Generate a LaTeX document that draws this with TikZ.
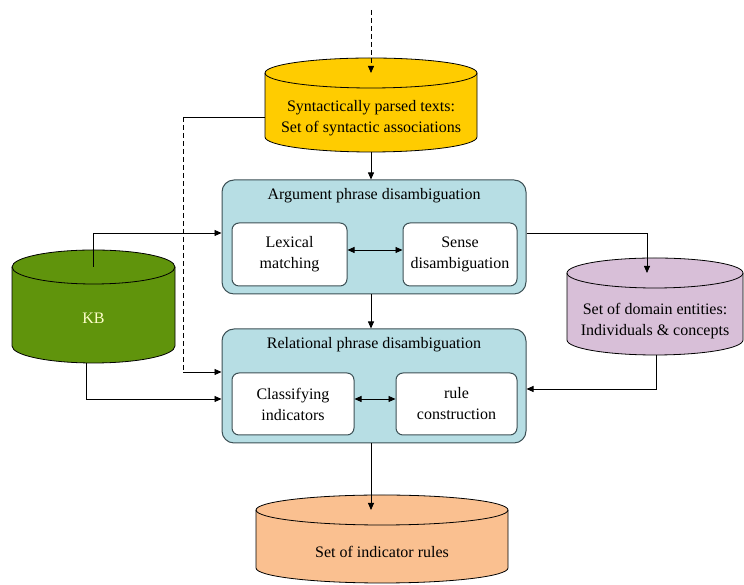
\documentclass[tikz,border=0pt]{standalone}
\usepackage{fontspec}
\setmainfont{Liberation Serif}
\usetikzlibrary{arrows.meta,calc}
\definecolor{yelc}{RGB}{255,204,0}
\definecolor{grnc}{RGB}{96,148,12}
\definecolor{purc}{RGB}{216,191,216}
\definecolor{orac}{RGB}{250,192,144}
\definecolor{bluc}{RGB}{183,222,228}
\definecolor{edgc}{RGB}{60,80,85}
\definecolor{kbtxt}{RGB}{255,255,204}
\newcommand{\mycyl}[7]{% x1, x2, ytopcenter, ybotcenter, ry, fill, name
  \pgfmathsetmacro{\rx}{(#2-#1)/2}
  \filldraw[fill=#6,draw=black,line width=0.8pt]
    (#1,#3) -- (#1,#4) arc[start angle=180,end angle=360,x radius=\rx,y radius=#5]
    -- (#2,#3) arc[start angle=0,end angle=180,x radius=\rx,y radius=#5] -- cycle;
  \draw[line width=0.8pt] (#1,#3) arc[start angle=180,end angle=360,x radius=\rx,y radius=#5];
}
\tikzset{
  font=\fontsize{16}{21}\selectfont,
  bigbox/.style={draw=edgc,fill=bluc,line width=1pt,rounded corners=12pt},
  smallbox/.style={draw=edgc,fill=white,line width=1pt,rounded corners=7pt,align=center},
  lbl/.style={align=center,inner sep=0pt},
  conn/.style={line width=0.8pt,-{Triangle[length=7pt,width=6pt]}},
  dconn/.style={line width=0.8pt,{Triangle[length=7pt,width=6pt]}-{Triangle[length=7pt,width=6pt]}},
  dsh/.style={dash pattern=on 5pt off 3pt},
}
\begin{document}
\begin{tikzpicture}[x=1pt,y=1pt]
\useasboundingbox (0,0) rectangle (744,585);
% cylinders
\mycyl{265}{477}{512}{448}{15}{yelc}{yel}
\mycyl{12}{175}{318}{239}{17}{grnc}{kb}
\mycyl{567}{743}{312}{245}{15}{purc}{pur}
\mycyl{256}{508}{75}{17}{15}{orac}{ora}
\node[lbl] (yel) at (371,467) {Syntactically parsed texts:\\Set of syntactic associations};
\node[lbl,text=kbtxt] (kb) at (93.5,267) {KB};
\node[lbl] (pur) at (655,264) {Set of domain entities:\\Individuals \& concepts};
\node[lbl] (ora) at (382,33) {Set of indicator rules};
\coordinate (yeltop) at (371,512);
\coordinate (yelbot) at (371,433);
\coordinate (yelleft) at (265,468);
\coordinate (kbtop) at (93,318);
\coordinate (kbbot) at (86,222);
\coordinate (purtop) at (647,312);
\coordinate (purbot) at (656,230);
\coordinate (oratop) at (371,75);
\coordinate (start) at (371,575);
% boxes
\node[bigbox,minimum width=304pt,minimum height=114pt] (arg) at (374,348) {};
\node[lbl,anchor=center] (argt) at (374,389) {Argument phrase disambiguation};
\node[smallbox,minimum width=115pt,minimum height=63pt] (lex) at (289.5,330.5) {Lexical\\matching};
\node[smallbox,minimum width=114pt,minimum height=63pt] (sense) at (460,330.5) {Sense\\disambiguation};
\node[bigbox,minimum width=304pt,minimum height=114pt] (rel) at (374,199) {};
\node[lbl] (relt) at (374,240) {Relational phrase disambiguation};
\node[smallbox,minimum width=122pt,minimum height=62pt] (cls) at (293,181) {Classifying\\indicators};
\node[smallbox,minimum width=121pt,minimum height=62pt] (rule) at (456.5,181) {rule\\construction};
% connectors
\draw[conn,dsh] (start) -- (yeltop);
\draw[conn] (yelbot) -- (arg.north -| yelbot);
\draw[line width=0.8pt] (yelleft) -- (183,468);
\draw[line width=0.8pt,dsh] (183,468) -- (183,213);
\draw[conn] (183,213) -- (rel.west |- 0,213);
\draw[conn] (kbtop) |- (arg.west |- 0,352);
\draw[conn] (kbbot) |- (rel.west |- 0,186);
\draw[conn] (arg.east |- 0,352) -| (purtop);
\draw[conn] (purbot) |- (rel.east |- 0,196);
\draw[conn] (arg.south -| yelbot) -- (rel.north -| yelbot);
\draw[conn] (rel.south -| yelbot) -- (oratop);
\draw[dconn] (lex.east |- 0,335) -- (sense.west |- 0,335);
\draw[dconn] (cls.east |- 0,186) -- (rule.west |- 0,186);
\end{tikzpicture}
\end{document}
